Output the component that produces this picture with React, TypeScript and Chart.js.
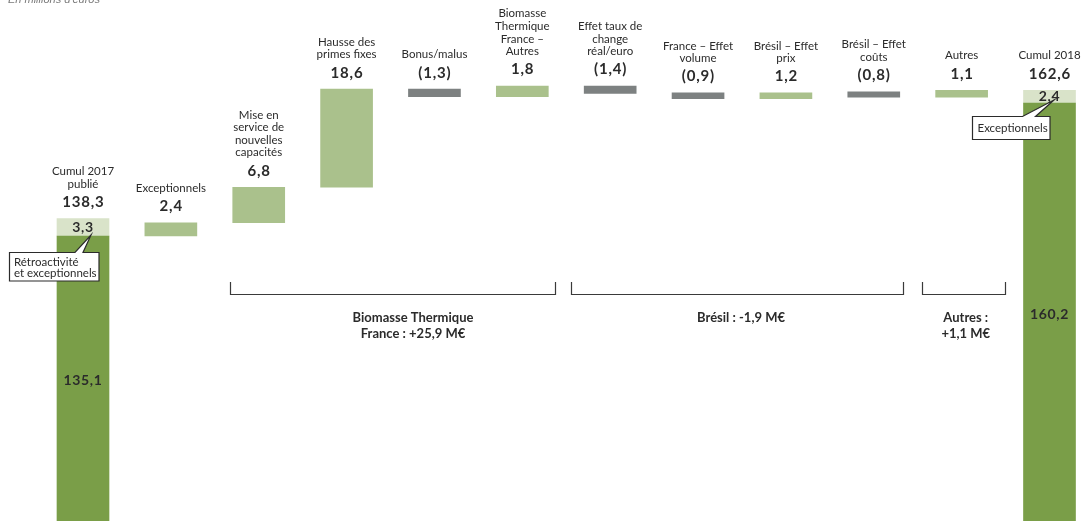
import React, { useEffect, useRef } from "react";
import { Chart, registerables } from "chart.js";

Chart.register(...registerables);

// ---- Data ----
const categories: string[][] = [
  ["Cumul 2017", "publié"],
  ["Exceptionnels"],
  ["Mise en", "service de", "nouvelles", "capacités"],
  ["Hausse des", "primes fixes"],
  ["Bonus/malus"],
  ["Biomasse", "Thermique", "France –", "Autres"],
  ["Effet taux de", "change", "réal/euro"],
  ["France – Effet", "volume"],
  ["Brésil – Effet", "prix"],
  ["Brésil – Effet", "coûts"],
  ["Autres"],
  ["Cumul 2018"],
];

const valueLabels = ["138,3", "2,4", "6,8", "18,6", "(1,3)", "1,8", "(1,4)", "(0,9)", "1,2", "(0,8)", "1,1", "162,6"];

// Totals (dark green), drawn from the truncated axis
const cumulValues = [135.1, null, null, null, null, null, null, null, null, null, null, 160.2];
const cumulLabels = ["135,1", "", "", "", "", "", "", "", "", "", "", "160,2"];

// Exceptional segments on top of the totals (pale green)
const exceptLow = [135.1, null, null, null, null, null, null, null, null, null, null, 160.2];
const exceptHigh = [138.4, null, null, null, null, null, null, null, null, null, null, 162.6];
const exceptLabels = ["3,3", "", "", "", "", "", "", "", "", "", "", "2,4"];

// Increases (green)
const upLow = [null, 135.1, 137.6, 144.3, null, 161.4, null, null, 161.0, null, 161.3, null];
const upHigh = [null, 137.6, 144.3, 162.8, null, 163.4, null, null, 162.1, null, 162.6, null];

// Decreases (grey)
const downLow = [null, null, null, null, 161.4, null, 162.0, 161.0, null, 161.3, null, null];
const downHigh = [null, null, null, null, 162.8, null, 163.4, 162.1, null, 162.3, null, null];

// Group brackets
const groupLabels = [["Biomasse Thermique", "France : +25,9 M€"], ["Brésil : -1,9 M€"], ["Autres :", "+1,1 M€"]];

const axisMin = 81.33;
const axisMax = 179.63;

// ---- Styles ----
const DARK_GREEN = "#7a9e48";
const PALE_GREEN = "#d9e3c9";
const GREEN = "#aac18c";
const GREY = "#7d8181";
const TEXT = "#2b2b2b";
const FONT = "Lato, 'Open Sans', sans-serif";

function range(lo: (number | null)[], hi: (number | null)[]) {
  return lo.map((l, i) => (l == null || hi[i] == null ? null : [l, hi[i] as number]));
}

// layout for brackets (in category index units) and group label centres
const bracketSpans = [[1.673, 5.372], [5.554, 9.333], [9.549, 10.494]];
const groupCenters = [3.756, 7.489, 10.047];

const annotPlugin = {
  id: "annot",
  afterDatasetsDraw(chart: any) {
    const ctx: any = chart.ctx;
    const area = chart.chartArea;
    const n = categories.length;
    const tops: number[] = new Array(n).fill(Infinity);
    const centers: number[] = new Array(n).fill(0);
    const segs: any[][] = [];
    chart.data.datasets.forEach((ds: any, di: number) => {
      const meta = chart.getDatasetMeta(di);
      segs[di] = [];
      meta.data.forEach((el: any, i: number) => {
        if (ds.data[i] == null) return;
        const p = el.getProps(["x", "y", "base", "width"], true);
        const top = Math.min(p.y, p.base);
        const bottom = Math.max(p.y, p.base);
        segs[di][i] = { x: p.x, top, bottom, w: p.width };
        if (top < tops[i]) tops[i] = top;
        centers[i] = p.x;
      });
    });

    ctx.save();
    ctx.textAlign = "center";
    ctx.textBaseline = "middle";
    ctx.fillStyle = TEXT;

    // category names + value labels
    for (let i = 0; i < n; i++) {
      const vy = tops[i] - 16.5;
      ctx.font = `bold 15px ${FONT}`;
      ctx.letterSpacing = "0.8px";
      ctx.fillText(valueLabels[i], centers[i] + 0.4, vy);
      ctx.letterSpacing = "0px";
      ctx.font = `11.5px ${FONT}`;
      const lines = categories[i];
      const lastY = vy - 18;
      lines.forEach((ln, k) => {
        ctx.fillText(ln, centers[i], lastY - (lines.length - 1 - k) * 12.6);
      });
    }

    // labels inside totals
    ctx.font = `bold 14px ${FONT}`;
    ctx.letterSpacing = "0.6px";
    segs[0].forEach((s: any, i: number) => {
      if (!s) return;
      const b = Math.min(s.bottom, area.bottom);
      ctx.fillText(cumulLabels[i], s.x, (s.top + b) / 2 + 2);
    });
    segs[1].forEach((s: any, i: number) => {
      if (!s) return;
      ctx.fillText(exceptLabels[i], s.x, (s.top + s.bottom) / 2);
    });
    ctx.letterSpacing = "0px";

    // brackets
    const xs = chart.scales.x;
    ctx.strokeStyle = "#3a3a3a";
    ctx.lineWidth = 1.2;
    bracketSpans.forEach(([a, b]) => {
      const x1 = Math.round(xs.getPixelForValue(a)) + 0.5;
      const x2 = Math.round(xs.getPixelForValue(b)) + 0.5;
      ctx.beginPath();
      ctx.moveTo(x1, 282);
      ctx.lineTo(x1, 294.5);
      ctx.lineTo(x2, 294.5);
      ctx.lineTo(x2, 282);
      ctx.stroke();
    });
    ctx.font = `bold 13px ${FONT}`;
    groupLabels.forEach((lines, g) => {
      const cx = xs.getPixelForValue(groupCenters[g]);
      lines.forEach((ln, k) => ctx.fillText(ln, cx, 318 + k * 15.5));
    });

    // callouts
    const drawCallout = (l: number, t: number, r: number, b: number, b1: number, b2: number, tx: number, ty: number) => {
      ctx.beginPath();
      ctx.moveTo(l, t);
      ctx.lineTo(b1, t);
      ctx.lineTo(tx, ty);
      ctx.lineTo(b2, t);
      ctx.lineTo(r, t);
      ctx.lineTo(r, b);
      ctx.lineTo(l, b);
      ctx.closePath();
      ctx.fillStyle = "#ffffff";
      ctx.fill();
      ctx.strokeStyle = "#2b2b2b";
      ctx.lineWidth = 1.2;
      ctx.stroke();
      ctx.fillStyle = TEXT;
    };
    const s0 = segs[1][0];
    if (s0) {
      const c = s0.x;
      const t = s0.bottom + 16.5;
      drawCallout(c - 73.5, t, c + 16, t + 28.5, c - 8, c, c + 8, s0.bottom - 1);
      ctx.font = `11.5px ${FONT}`;
      ctx.textAlign = "left";
      ctx.fillText("Rétroactivité", c - 69, t + 9.5);
      ctx.fillText("et exceptionnels", c - 69, t + 20.5);
    }
    const s1 = segs[1][n - 1];
    if (s1) {
      const c = s1.x;
      const t = s1.bottom + 13.5;
      drawCallout(c - 77, t, c + 0.5, t + 23, c - 27, c - 14, c + 4.5, s1.bottom - 3);
      ctx.font = `11.5px ${FONT}`;
      ctx.textAlign = "left";
      ctx.fillText("Exceptionnels", c - 72, t + 12);
    }

    // unit note
    ctx.textAlign = "left";
    ctx.textBaseline = "alphabetic";
    ctx.font = "italic 11px 'Liberation Sans', Arial, sans-serif";
    ctx.fillStyle = "#7a7a7a";
    ctx.fillText("En millions d'euros", 8, 3);
    ctx.restore();
  },
};

export default function App() {
  const ref = useRef<HTMLCanvasElement | null>(null);
  useEffect(() => {
    if (!ref.current) return;
    const common = { grouped: false, barThickness: 52, borderWidth: 0, clip: false as const };
    const chart = new Chart(ref.current, {
      type: "bar",
      data: {
        labels: categories.map((c) => c.join(" ")),
        datasets: [
          { label: "Cumul", data: cumulValues as any, backgroundColor: DARK_GREEN, ...common },
          { label: "Exceptionnels", data: range(exceptLow, exceptHigh) as any, backgroundColor: PALE_GREEN, ...common },
          { label: "Hausse", data: range(upLow, upHigh) as any, backgroundColor: GREEN, ...common },
          { label: "Baisse", data: range(downLow, downHigh) as any, backgroundColor: GREY, ...common },
        ],
      },
      options: {
        responsive: false,
        animation: false,
        layout: { padding: { left: 83, right: 40.5, top: 0, bottom: 0 } },
        plugins: { legend: { display: false }, tooltip: { enabled: false } },
        scales: {
          x: { display: false, offset: false, grid: { display: false } },
          y: { display: false, min: axisMin, max: axisMax, grid: { display: false } },
        },
      },
      plugins: [annotPlugin],
    });
    return () => chart.destroy();
  }, []);
  return (
    <div style={{ position: "fixed", left: 0, top: 0, width: 1090, height: 521, background: "#fff" }}>
      <canvas ref={ref} width={1090} height={521} style={{ display: "block" }} />
    </div>
  );
}
